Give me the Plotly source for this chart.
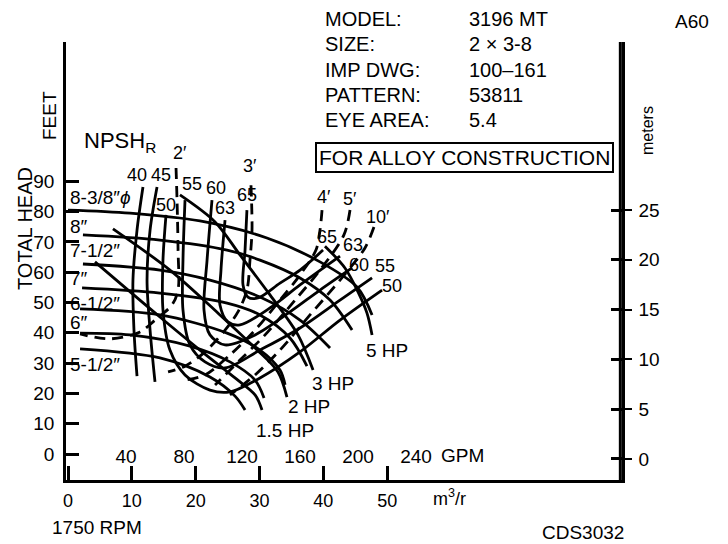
import plotly.graph_objects as go

FONT = "Liberation Sans, Arial, Helvetica, sans-serif"

# ---------------- data (flow in GPM, head in feet) ----------------
# impeller diameter head curves
d838_gpm = [0, 42.8, 91, 137.2, 173.8, 199.3, 209.7]
d838_ft = [80.5, 79.5, 76.9, 71.3, 63.4, 55.1, 45.9]
d8_gpm = [10.3, 63.4, 109.7, 132.4, 160, 180.7, 195.9]
d8_ft = [72.3, 70.6, 67.3, 64, 58.1, 50.8, 40.9]
d712_gpm = [10.3, 63.4, 97.9, 132.4, 160, 180.7]
d712_ft = [62.7, 60.7, 57.4, 51.8, 44.2, 35]
d7_gpm = [9.7, 63.4, 109.7, 132.4, 153.1, 164.8]
d7_ft = [54.8, 53.1, 49.8, 45.9, 38.3, 29]
d612_gpm = [8.3, 63.4, 109.7, 132.4, 146.2, 149.7]
d612_ft = [47.9, 45.9, 39.9, 34.3, 27.7, 22.8]
d6_gpm = [8.3, 42.8, 84.1, 111.7, 129, 135.2]
d6_ft = [39.9, 39.3, 35.6, 30.4, 24.4, 18.5]
d512_gpm = [8.3, 63.4, 97.9, 115.2, 122.1]
d512_ft = [34.7, 31.7, 25.4, 19.1, 14.5]
impeller_labels = ["8-3/8″<i>ϕ</i>", "8″", "7-1/2″", "7″", "6-1/2″", "6″", "5-1/2″"]

# horsepower lines
hp15_gpm = [18.6, 63.4, 91, 115.2, 129, 133.8]
hp15_ft = [63.4, 45.2, 34.3, 25.1, 19.5, 14.5]
hp2_gpm = [31, 70.3, 104.8, 129, 144.8, 151]
hp2_ft = [74.3, 60.7, 45.9, 35, 27.1, 18.8]
hp3_gpm = [77.2, 101.4, 118.6, 139.3, 158.6, 169]
hp3_ft = [85.5, 76.6, 65.7, 52.5, 39.3, 27.7]
hp5_gpm = [177.2, 191, 200, 206.2, 209.7]
hp5_ft = [68.6, 61.4, 53.5, 46.5, 39.3]
hp_labels = ["1.5 HP", "2 HP", "3 HP", "5 HP"]

# efficiency contours (%)
e40_gpm = [51.7, 47.6, 44.8, 45.5, 47.6]
e40_ft = [88.1, 73.9, 57.4, 40.9, 25.7]
e45_gpm = [61.4, 56.6, 54.5, 56.6, 60]
e45_ft = [88.1, 73.9, 57.4, 40.9, 23.8]
e50_gpm = [67.6, 65.5, 65.5, 70.3, 80.7, 97.9, 111.7, 132.4, 160, 187.6, 216.6]
e50_ft = [78.9, 64, 47.5, 34.3, 26.1, 21.1, 20.5, 25.1, 33.7, 44.2, 54.1]
e55_gpm = [80.7, 79.3, 79.3, 84.1, 94.5, 108.3, 132.4, 160, 187.6, 209.7]
e55_ft = [83.8, 64, 47.5, 36, 30.4, 28.4, 34.3, 41.6, 50.8, 58.1]
e60_gpm = [99.3, 95.9, 93.8, 97.9, 108.3, 129, 153.1, 173.8, 195.9]
e60_ft = [83.8, 64, 47.5, 39.3, 36, 39.3, 46.9, 54.1, 61.4]
e63_gpm = [108.3, 105.5, 104.8, 110.3, 118.6, 139.3, 160, 187.6]
e63_ft = [77.2, 60.7, 49.2, 43.6, 42.6, 48.2, 55.8, 65.3]
e65_gpm = [123.4, 122.1, 120.7, 124.1, 131, 146.2, 160, 175.9]
e65_ft = [80.5, 67.3, 55.8, 51.8, 51.5, 56.4, 60.7, 67.3]
eff_labels = ["40", "45", "50", "55", "60", "63", "65"]

# NPSHr lines (ft)
n2_gpm = [74.5, 75.2, 75.9, 75.9, 71.7, 60, 49.7, 29, 8.3]
n2_ft = [94.4, 83.8, 67.3, 54.1, 49.2, 44.2, 40.3, 38, 39.6]
n3_gpm = [126.2, 126.9, 125.5, 123.4, 117.2, 108.3, 94.5, 80.7, 69]
n3_ft = [88.7, 73.9, 64, 54.1, 46.9, 40.9, 33.7, 29, 27.1]
n4_gpm = [175.2, 173.8, 171, 160, 146.2, 129, 111.7, 94.5, 80.7]
n4_ft = [80.5, 73.9, 67.3, 59.1, 50.8, 40.9, 32.7, 26.1, 24.4]
n5_gpm = [194.5, 190.3, 173.8, 156.6, 135.9, 118.6, 101.4]
n5_ft = [80.5, 72.3, 60.7, 50.8, 39.3, 31, 22.8]
n10_gpm = [211, 204.8, 187.6, 166.9, 146.2, 129, 111.7]
n10_ft = [74.9, 68, 57.4, 45.9, 34.3, 26.1, 19.5]
npsh_labels = ["2′", "3′", "4′", "5′", "10′"]

# axis ticks
feet_ticks = [0, 10, 20, 30, 40, 50, 60, 70, 80, 90]
meter_ticks = [0, 5, 10, 15, 20, 25]
m3h_ticks = [0, 10, 20, 30, 40, 50]
gpm_ticks = [40, 80, 120, 160, 200, 240]
GPM_PER_M3H = 4.4029

fig = go.Figure()

def curve(xs, ys, dash="solid"):
    fig.add_trace(go.Scatter(
        x=xs, y=ys, mode="lines",
        line=dict(color="black", width=2.8, shape="spline", smoothing=0.9,
                  dash="11px,7px" if dash != "solid" else "solid"),
        hoverinfo="skip", showlegend=False))

for xs, ys in [(d838_gpm, d838_ft), (d8_gpm, d8_ft), (d712_gpm, d712_ft), (d7_gpm, d7_ft),
               (d612_gpm, d612_ft), (d6_gpm, d6_ft), (d512_gpm, d512_ft)]:
    curve(xs, ys)
for xs, ys in [(hp15_gpm, hp15_ft), (hp2_gpm, hp2_ft), (hp3_gpm, hp3_ft), (hp5_gpm, hp5_ft)]:
    curve(xs, ys)
for xs, ys in [(e40_gpm, e40_ft), (e45_gpm, e45_ft), (e50_gpm, e50_ft), (e55_gpm, e55_ft),
               (e60_gpm, e60_ft), (e63_gpm, e63_ft), (e65_gpm, e65_ft)]:
    curve(xs, ys)
for xs, ys in [(n2_gpm, n2_ft), (n3_gpm, n3_ft), (n4_gpm, n4_ft), (n5_gpm, n5_ft), (n10_gpm, n10_ft)]:
    curve(xs, ys, dash="dash")

# invisible traces so that the secondary axes (GPM labels, meters) get drawn
for xa, ya in [("x2", "y"), ("x", "y2"), ("x", "y3")]:
    fig.add_trace(go.Scatter(x=[0], y=[0], xaxis=xa, yaxis=ya, mode="markers",
                             marker=dict(size=1, opacity=0), hoverinfo="skip", showlegend=False))

# ---------------- layout ----------------
W, H = 728, 544
ML, MR, MT, MB = 66, 106, 42, 64
PW, PH = W - ML - MR, H - MT - MB
X_RANGE = [-1.38, 382.07]
Y_RANGE = [-8.58, 135.97]
M_RANGE = [-2.11, 41.87]


def lab(text, px, py, size=18, xanchor="center", **kw):
    return dict(text=text, x=(px - ML) / PW, y=(H - MB - py) / PH, xref="paper", yref="paper",
                showarrow=False, xanchor=xanchor, yanchor="middle",
                font=dict(family=FONT, size=size, color="black"), **kw)


ann = []
# header block
for t, py in zip(["MODEL:", "SIZE:", "IMP DWG:", "PATTERN:", "EYE AREA:"], [19, 44, 70, 95, 120]):
    ann.append(lab(t, 323, py, 20, "left"))
for t, py in zip(["3196 MT", "2 × 3-8", "100–161", "53811", "5.4"], [19, 44, 70, 95, 120]):
    ann.append(lab(t, 467, py, 20, "left"))
ann.append(lab("A60", 692, 21, 19))
ann.append(lab("FOR ALLOY CONSTRUCTION", 464, 157, 21, bordercolor="black", borderwidth=2, borderpad=2))
# axis titles
ann.append(lab("TOTAL HEAD", 25, 229, 20, textangle=-90))
ann.append(lab("FEET", 49, 116, 19, textangle=-90))
ann.append(lab("meters", 647, 131, 16, textangle=-90))
ann.append(lab("NPSH<sub>R</sub>", 82, 142, 22, "left"))
# impeller labels
for t, py in zip(impeller_labels, [197, 226, 250, 278, 303, 322, 364]):
    ann.append(lab(t, 68, py, 19, "left"))
# efficiency labels
for t, (px, py) in zip(eff_labels, [(137, 175), (161, 175), (166, 205), (192, 184), (216, 188), (225, 208), (247, 195)]):
    ann.append(lab(t, px, py, 18))
for t, (px, py) in zip(["65", "63", "60", "55", "50"], [(327, 237), (353, 245), (359, 265), (385, 266), (392, 286)]):
    ann.append(lab(t, px, py, 18))
# NPSH labels
for t, (px, py) in zip(npsh_labels, [(180, 153), (250, 166), (324, 197), (350, 199), (378, 217)]):
    ann.append(lab(t, px, py, 18))
# HP labels
for t, (px, py) in zip(hp_labels, [(285, 430), (309, 406), (333, 383), (387, 350)]):
    ann.append(lab(t, px, py, 19))
ann.append(lab("GPM", 439, 455, 19, "left"))
ann.append(lab("m<sup>3</sup>/r", 449, 497, 18))
ann.append(lab("1750 RPM", 97, 527, 19))
ann.append(lab("CDS3032", 583, 532, 19))

tickfont = dict(family=FONT, size=19, color="black")

fig.update_layout(
    width=W, height=H, margin=dict(l=ML, r=MR, t=MT, b=MB, pad=0),
    paper_bgcolor="white", plot_bgcolor="white", showlegend=False,
    annotations=ann,
    # right-hand frame line of the meters scale
    shapes=[dict(type="line", xref="paper", yref="paper", x0=0.997, x1=0.997, y0=-0.003, y1=1,
                 line=dict(color="black", width=3), layer="above")],
    xaxis=dict(range=X_RANGE, showgrid=False, zeroline=False, showline=True, linecolor="black",
               linewidth=2.5, ticks="inside", ticklen=14, tickwidth=3, tickcolor="black",
               tickvals=[v * GPM_PER_M3H for v in m3h_ticks], ticktext=[str(v) for v in m3h_ticks],
               tickfont=dict(family=FONT, size=18, color="black"), ticklabelstandoff=3),
    xaxis2=dict(range=X_RANGE, overlaying="x", anchor="free", position=0.085, side="bottom",
                showgrid=False, zeroline=False, showline=False, ticks="",
                tickvals=gpm_ticks, ticktext=[str(v) for v in gpm_ticks], tickfont=tickfont),
    yaxis=dict(range=Y_RANGE, showgrid=False, zeroline=False, showline=True,
               linecolor="black", linewidth=2.5, ticks="inside", ticklen=13, tickwidth=3,
               tickcolor="black", tickvals=feet_ticks, tickfont=tickfont, ticklabelstandoff=5),
    yaxis2=dict(range=M_RANGE, overlaying="y", side="right", anchor="x", showgrid=False,
                zeroline=False, showline=True, linecolor="black", linewidth=2.5, ticks="inside",
                ticklen=11, tickwidth=3, tickcolor="black", tickvals=meter_ticks, showticklabels=False),
    yaxis3=dict(range=M_RANGE, overlaying="y", side="right", anchor="x", showgrid=False,
                zeroline=False, showline=True, linecolor="black", linewidth=2.5, ticks="outside",
                ticklen=7, tickwidth=2, tickcolor="black", tickvals=meter_ticks, tickfont=tickfont,
                ticklabelstandoff=3),
)

fig.write_html("out.html", config={"displayModeBar": False},
               post_script="document.body.style.margin='0';")
